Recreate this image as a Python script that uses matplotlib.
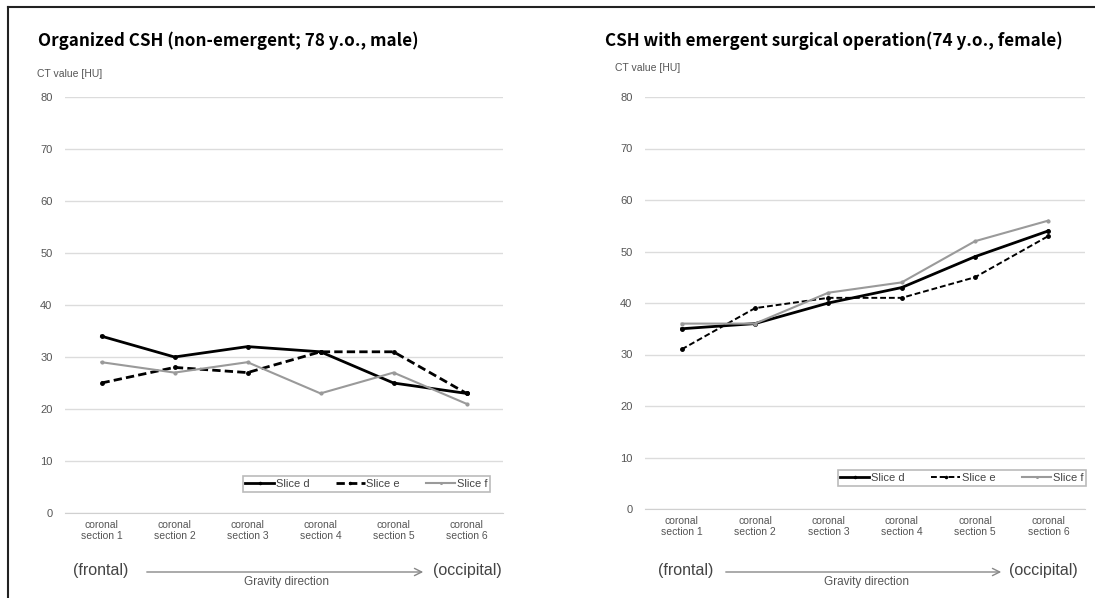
import matplotlib
matplotlib.use('Agg')
import matplotlib.pyplot as plt
from matplotlib.lines import Line2D
from matplotlib.patches import FancyArrowPatch
import numpy as np

plt.rcParams['font.family'] = ['Liberation Sans', 'DejaVu Sans']

sections = ['coronal\nsection 1', 'coronal\nsection 2', 'coronal\nsection 3',
            'coronal\nsection 4', 'coronal\nsection 5', 'coronal\nsection 6']
yticks = [0, 10, 20, 30, 40, 50, 60, 70, 80]

# organized CSH (left)
left_d = [34, 30, 32, 31, 25, 23]
left_e = [25, 28, 27, 31, 31, 23]
left_f = [29, 27, 29, 23, 27, 21]

# emergent CSH (right)
right_d = [35, 36, 40, 43, 49, 54]
right_e = [31, 39, 41, 41, 45, 53]
right_f = [36, 36, 42, 44, 52, 56]

title_left = 'Organized CSH (non-emergent; 78 y.o., male)'
title_right = 'CSH with emergent surgical operation(74 y.o., female)'

W, H = 1095, 598
fig = plt.figure(figsize=(W / 100, H / 100), dpi=100)

def px(x, y):
    return x / W, 1 - y / H

def panel(rect, d, e, f, lw_e, leg_box):
    ax = fig.add_axes(rect)
    x = np.arange(len(sections))
    ax.plot(x, d, color='black', lw=2.0, marker='o', ms=2.5, label='Slice d')
    ax.plot(x, e, color='black', lw=lw_e, ls=(0, (3, 1.5)), marker='o', ms=2.5, label='Slice e')
    ax.plot(x, f, color='#9a9a9a', lw=1.5, marker='o', ms=2, label='Slice f')
    ax.set_xlim(-0.5, 5.5)
    ax.set_ylim(0, 80)
    ax.set_yticks(yticks)
    ax.set_xticks(x)
    ax.set_xticklabels(sections, fontsize=7.5, color='#555555', linespacing=1.1)
    ax.tick_params(axis='y', labelsize=8, colors='#555555', length=0, pad=9)
    ax.tick_params(axis='x', length=0, pad=5)
    ax.grid(axis='y', color='#dcdcdc', lw=1)
    ax.set_axisbelow(True)
    for s in ['top', 'right', 'left']:
        ax.spines[s].set_visible(False)
    ax.spines['bottom'].set_color('#d0d0d0')
    leg = ax.legend(loc='center', bbox_to_anchor=leg_box, mode='expand', ncol=3, fontsize=8,
                    frameon=True, fancybox=False, edgecolor='#aaaaaa', handlelength=2.6,
                    handletextpad=0.15, borderpad=0.25, markerscale=0.6)
    leg.get_frame().set_linewidth(1.2)
    for t in leg.get_texts():
        t.set_color('#444444')
    return ax

panel([65 / W, (H - 513) / H, 438 / W, 416 / H], left_d, left_e, left_f, 2.0,
      (0.393, 0.05, 0.59, 0.04))
panel([645 / W, (H - 509) / H, 440 / W, 412 / H], right_d, right_e, right_f, 1.4,
      (0.425, 0.055, 0.59, 0.04))

# titles
tfont = ['Noto Sans CJK JP', 'DejaVu Sans']
fig.text(*px(38, 41), title_left, fontsize=12.3, fontweight='bold', family=tfont, va='center')
fig.text(*px(605, 41), title_right, fontsize=12.3, fontweight='bold', family=tfont, va='center')
fig.text(*px(37, 74), 'CT value [HU]', fontsize=7.5, color='#555555', va='center')
fig.text(*px(615, 68), 'CT value [HU]', fontsize=7.5, color='#555555', va='center')

# gravity direction arrows
for x0, a0, a1, x1, gx in [(73, 144, 426, 433, 286), (658, 723, 1004, 1009, 866)]:
    fig.text(*px(x0, 571), '(frontal)', fontsize=11.5, color='#444444', va='center')
    fig.text(*px(x1, 571), '(occipital)', fontsize=11.5, color='#444444', va='center')
    fig.text(*px(gx, 582), 'Gravity direction', fontsize=8.5, color='#555555', ha='center', va='center')
    fig.add_artist(FancyArrowPatch(px(a0, 572), px(a1, 572), transform=fig.transFigure,
                                   arrowstyle='->', mutation_scale=13, color='#888888', lw=1))

# outer frame lines
fig.add_artist(Line2D([8 / W, 8 / W], [0, 1 - 7 / H], color='#222222', lw=1.5, transform=fig.transFigure))
fig.add_artist(Line2D([8 / W, 1], [1 - 7 / H, 1 - 7 / H], color='#222222', lw=1.5, transform=fig.transFigure))

fig.savefig('out.png', dpi=100)
